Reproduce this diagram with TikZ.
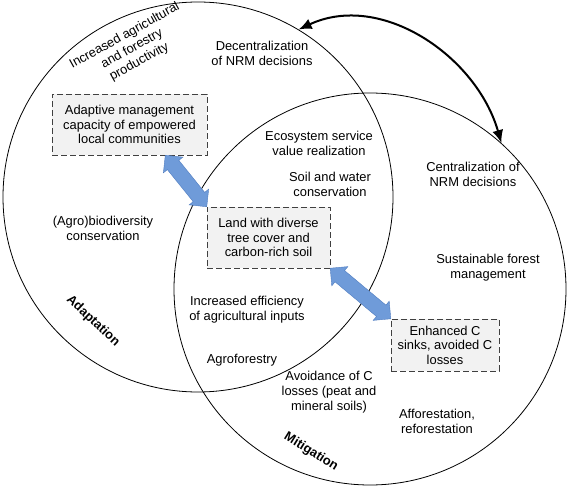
\documentclass[tikz,border=0pt]{standalone}
\usepackage{fontspec}
\setmainfont{Liberation Sans}
\usetikzlibrary{shapes.arrows,calc,arrows.meta}
\definecolor{fatblue}{HTML}{6F9BD9}
\definecolor{fatedge}{HTML}{4F7CC0}
\definecolor{boxgray}{HTML}{F2F2F2}

\begin{document}
\begin{tikzpicture}[x=1pt,y=1pt,
  lbl/.style={align=center, font=\fontsize{12.9}{15}\selectfont},
  zone/.style={circle, draw, line width=0.8pt, minimum size=#1, inner sep=0pt},
  focus/.style={draw=black!75, dash pattern=on 6pt off 3pt, fill=boxgray, align=center,
    font=\fontsize{12.9}{14.5}\selectfont, inner sep=0pt},
  fat/.style={double arrow, fill=fatblue, draw=fatedge, inner sep=7pt,
    double arrow head extend=5pt, minimum width=25pt}]
\useasboundingbox (0,0) rectangle (567,485);
\node[zone=390pt] (adapt) at (198,288) {};
\node[zone=392pt] (mitig) at (370,196) {};

\node[focus, minimum width=155pt, minimum height=61pt] (capacity) at (129.5,360.5)
  {Adaptive management\\capacity of empowered\\local communities};
\node[focus, minimum width=123pt, minimum height=61pt] (land) at (268.5,247.5)
  {Land with diverse\\tree cover and\\carbon-rich soil};
\node[focus, minimum width=108pt, minimum height=52pt] (sinks) at (445,140)
  {Enhanced C\\sinks, avoided C\\losses};

\coordinate (capfoot) at ($(capacity.south west)!0.73!(capacity.south east)$);
\path let \p1=($(land.north west)-(capfoot)$), \n1={atan2(\y1,\x1)}, \n2={veclen(\x1,\y1)} in
  node[fat, rotate=\n1, minimum height=\n2] (link1) at ($(capfoot)!0.5!(land.north west)$) {};
\path let \p1=($(sinks.north west)-(land.south east)$), \n1={atan2(\y1,\x1)}, \n2={veclen(\x1,\y1)} in
  node[fat, rotate=\n1, minimum height=\n2] (link2) at ($(land.south east)!0.5!(sinks.north west)$) {};

\draw[line width=2pt, {Latex[length=13pt,width=11pt]}-{Latex[length=13pt,width=11pt]}]
  (adapt.59) to[out=25,in=106] (mitig.48.5);

\node[lbl, rotate=29] (yield) at (132,436) {Increased agricultural\\and forestry\\productivity};
\node[lbl] (decent) at (262,432) {Decentralization\\of NRM decisions};
\node[lbl] (ecoserv) at (319,342) {Ecosystem service\\value realization};
\node[lbl] (soilwater) at (330,301) {Soil and water\\conservation};
\node[lbl] (central) at (473,311) {Centralization of\\NRM decisions};
\node[lbl] (agrobio) at (103,257) {(Agro)biodiversity\\conservation};
\node[lbl] (sfm) at (488,217) {Sustainable forest\\management};
\node[lbl] (efficiency) at (247,175) {Increased efficiency\\of agricultural inputs};
\node[lbl] (agrofor) at (242,125) {Agroforestry};
\node[lbl] (avoid) at (329,93) {Avoidance of C\\losses (peat and\\mineral soils)};
\node[lbl] (affor) at (437,64) {Afforestation,\\reforestation};
\node[lbl, font=\fontsize{12.9}{15}\selectfont\bfseries, rotate=-43] (adaptlbl) at (93,164) {Adaptation};
\node[lbl, font=\fontsize{12.9}{15}\selectfont\bfseries, rotate=-32] (mitiglbl) at (311,33) {Mitigation};
\end{tikzpicture}
\end{document}
